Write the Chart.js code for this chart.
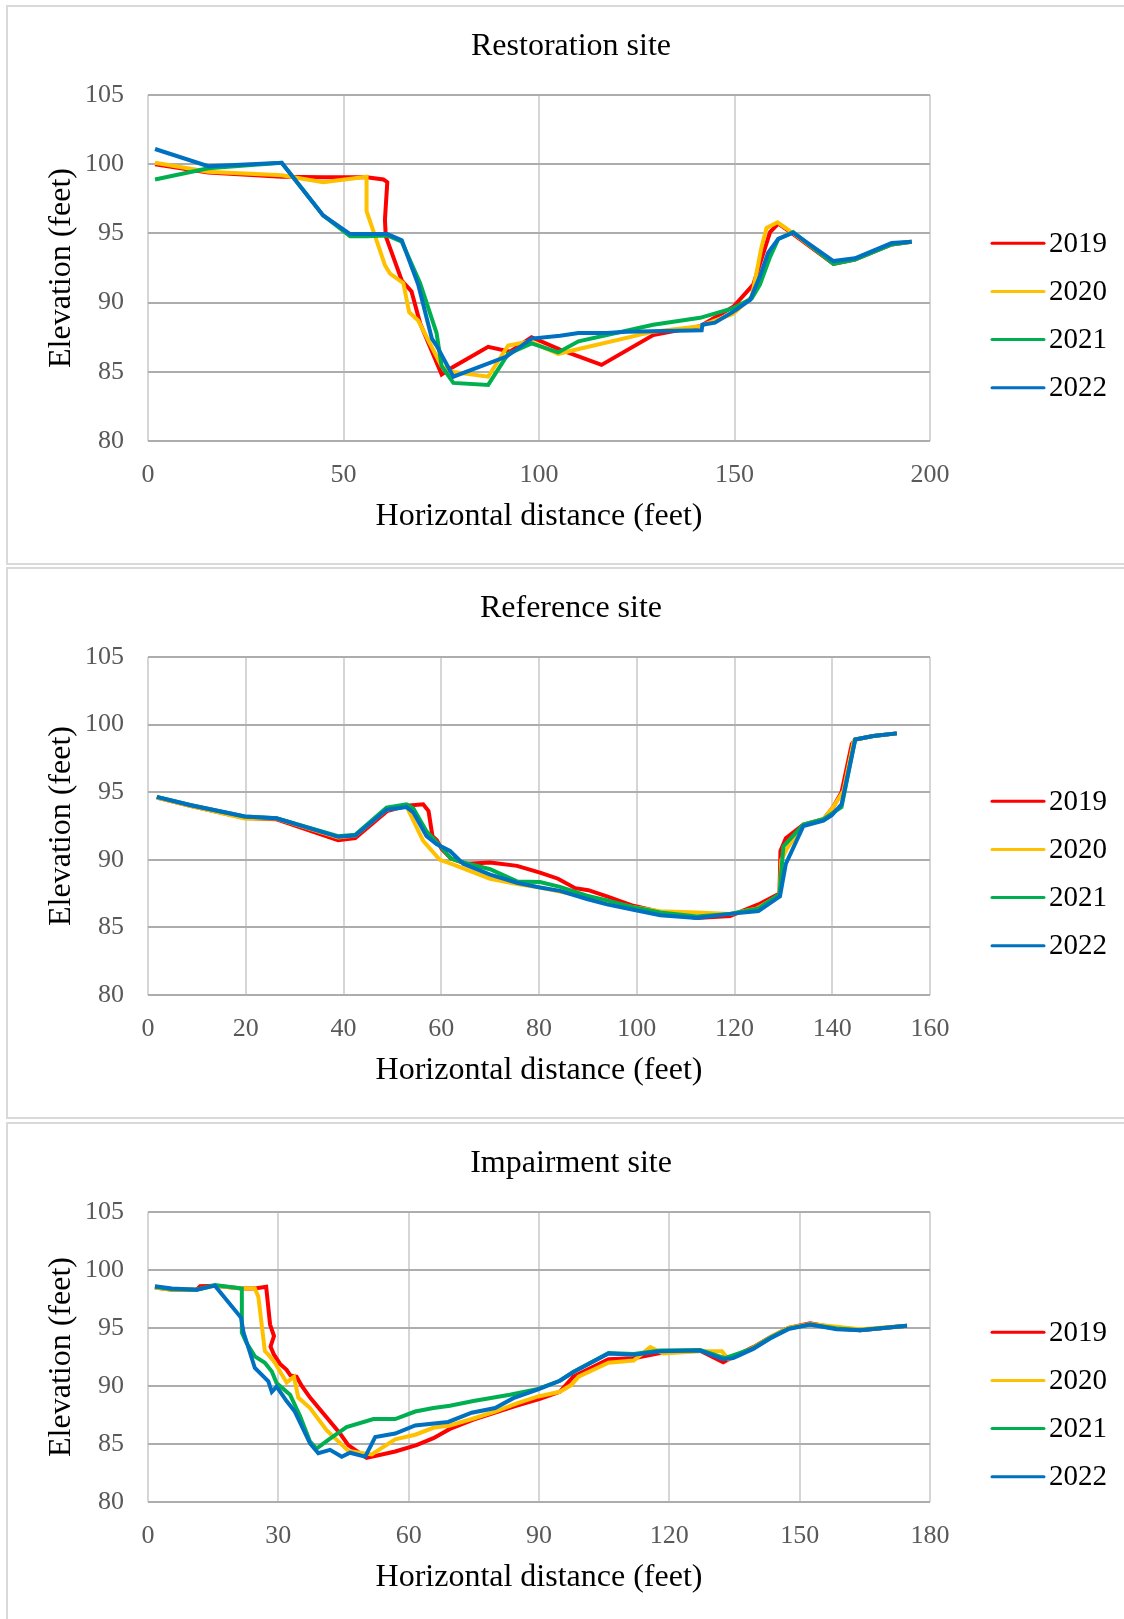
<!DOCTYPE html>
<html>
<head>
<meta charset="utf-8">
<script src="https://cdn.jsdelivr.net/npm/chart.js@4.4.1/dist/chart.umd.min.js"></script>
<style>
  html, body { margin: 0; padding: 0; background: #fff; overflow: hidden; }
  body { width: 1124px; height: 1619px; position: relative; }
  .panel { position: absolute; left: 6px; width: 1126px; border: 2px solid #d9d9d9; background: #fff; }
  .panel canvas { display: block; }
</style>
</head>
<body>
<div class="panel" style="top:5px;height:556px"><canvas id="restChart" width="1126" height="556"></canvas></div>
<div class="panel" style="top:567px;height:548px"><canvas id="refChart" width="1126" height="548"></canvas></div>
<div class="panel" style="top:1122px;height:500px"><canvas id="impChart" width="1126" height="500"></canvas></div>
<script>
const years = ["2019", "2020", "2021", "2022"];
const yearColors = ["#FF0000", "#FFC000", "#00B050", "#0070C0"];
const elevTicks = [80, 85, 90, 95, 100, 105];

// Restoration site
const restXTicks = [0, 50, 100, 150, 200];
const restX2019 = [1.8, 15.4, 34.2, 44.8, 55.9, 60.2, 61.2, 60.6, 60.8, 64.9, 67.4, 69.6, 75.1, 77.7, 87.0, 92.6, 98.1, 105.4, 116.0, 129.2, 141.2, 149.7, 154.8, 159.1, 161.2, 165.0, 175.3, 180.8, 190.2, 195.3];
const restY2019 = [100.0, 99.4, 99.1, 99.05, 99.05, 98.9, 98.7, 96.0, 94.8, 91.6, 90.8, 88.5, 84.8, 85.3, 86.8, 86.45, 87.5, 86.6, 85.5, 87.65, 88.3, 89.7, 91.3, 95.1, 95.7, 94.95, 92.8, 93.1, 94.2, 94.4];
const restX2020 = [1.8, 15.4, 34.2, 44.8, 55.9, 55.9, 60.6, 61.9, 65.3, 66.8, 69.1, 75.1, 77.7, 87.0, 92.1, 97.7, 104.9, 129.2, 141.2, 149.7, 154.4, 156.9, 158.2, 161.0, 164.6, 175.3, 180.8, 190.2, 195.3];
const restY2020 = [100.1, 99.45, 99.2, 98.7, 99.1, 96.6, 92.7, 92.1, 91.4, 89.3, 88.7, 85.4, 85.0, 84.65, 86.9, 87.2, 86.3, 87.9, 88.3, 89.2, 90.4, 94.0, 95.4, 95.8, 95.1, 92.85, 93.15, 94.25, 94.4];
const restX2021 = [1.8, 15.4, 34.2, 44.8, 51.7, 55.9, 61.2, 64.9, 69.6, 73.8, 75.1, 78.1, 87.0, 92.1, 98.1, 104.9, 110.1, 129.2, 141.2, 149.7, 154.4, 156.5, 159.1, 161.2, 165.0, 175.3, 180.8, 190.2, 195.3];
const restY2021 = [98.9, 99.7, 100.1, 96.3, 94.8, 94.8, 94.85, 94.4, 91.4, 87.8, 85.4, 84.2, 84.05, 86.3, 87.05, 86.4, 87.2, 88.4, 88.9, 89.6, 90.3, 91.3, 93.3, 94.6, 95.1, 92.8, 93.1, 94.2, 94.4];
const restX2022 = [1.8, 15.4, 34.2, 44.8, 51.7, 61.2, 64.9, 69.1, 72.6, 73.8, 75.5, 78.1, 91.7, 98.1, 105.4, 110.1, 117.3, 122.4, 141.6, 141.8, 145.0, 149.7, 154.0, 156.5, 158.6, 161.2, 165.0, 175.3, 180.8, 190.2, 195.3];
const restY2022 = [101.1, 99.85, 100.1, 96.3, 94.95, 94.95, 94.5, 91.3, 87.4, 86.9, 86.0, 84.65, 86.1, 87.4, 87.6, 87.8, 87.8, 87.9, 88.0, 88.4, 88.55, 89.35, 90.2, 91.9, 93.6, 94.6, 95.05, 93.0, 93.2, 94.3, 94.4];

// Reference site
const refXTicks = [0, 20, 40, 60, 80, 100, 120, 140, 160];
const refX2019 = [1.8, 8.6, 19.8, 26.3, 38.9, 42.4, 48.9, 52.9, 56.3, 57.4, 58.2, 59.1, 60.1, 62.0, 65.2, 70.0, 75.5, 80.2, 83.9, 87.4, 90.1, 93.9, 99.3, 104.8, 112.3, 119.1, 124.9, 129.2, 129.4, 130.5, 134.1, 138.2, 140.2, 141.9, 144.0, 144.7, 148.4, 153.2];
const refY2019 = [94.6, 94.0, 93.1, 93.0, 91.45, 91.6, 93.6, 94.0, 94.1, 93.6, 91.75, 91.45, 90.8, 90.1, 89.7, 89.8, 89.55, 89.05, 88.6, 87.9, 87.75, 87.3, 86.6, 86.15, 85.7, 85.85, 86.7, 87.5, 90.65, 91.6, 92.6, 93.0, 93.9, 95.0, 98.55, 98.9, 99.15, 99.35];
const refX2020 = [1.8, 8.6, 19.8, 26.3, 38.9, 42.4, 48.8, 52.9, 56.3, 59.7, 62.1, 70.0, 75.5, 80.2, 87.0, 93.9, 99.3, 104.8, 112.3, 119.1, 124.6, 129.2, 129.6, 130.7, 134.1, 138.2, 140.2, 142.3, 144.4, 144.7, 148.4, 153.2];
const refY2020 = [94.6, 94.0, 93.05, 93.05, 91.65, 91.8, 93.7, 93.95, 91.4, 90.0, 89.7, 88.6, 88.2, 87.95, 87.45, 86.9, 86.5, 86.2, 86.1, 86.0, 86.4, 87.4, 90.0, 90.8, 92.6, 93.0, 93.9, 95.1, 98.8, 98.9, 99.15, 99.35];
const refX2021 = [1.8, 8.6, 19.8, 26.3, 38.9, 42.4, 48.8, 52.9, 54.3, 57.0, 59.1, 62.0, 64.5, 70.0, 75.5, 80.2, 84.3, 89.8, 93.9, 99.3, 104.8, 112.3, 119.1, 124.9, 129.2, 130.0, 134.1, 138.2, 141.9, 144.4, 144.7, 148.4, 153.2];
const refY2021 = [94.65, 94.05, 93.2, 93.07, 91.75, 91.85, 93.85, 94.1, 93.8, 92.1, 91.3, 90.1, 89.8, 89.3, 88.4, 88.35, 88.0, 87.35, 87.0, 86.5, 86.1, 85.8, 86.0, 86.4, 87.45, 91.0, 92.6, 93.0, 93.9, 98.4, 98.9, 99.15, 99.35];
const refX2022 = [1.8, 8.6, 19.8, 26.3, 38.9, 42.4, 48.8, 52.9, 54.3, 57.0, 59.1, 61.8, 64.5, 70.0, 75.5, 80.2, 84.3, 89.8, 93.9, 99.3, 104.8, 112.3, 119.1, 124.9, 129.3, 130.5, 134.1, 138.2, 139.9, 141.9, 144.7, 148.4, 153.2];
const refY2022 = [94.65, 94.05, 93.2, 93.07, 91.7, 91.8, 93.7, 93.9, 93.5, 91.75, 91.15, 90.65, 89.7, 88.9, 88.3, 87.95, 87.7, 87.1, 86.7, 86.3, 85.9, 85.7, 86.0, 86.2, 87.3, 89.7, 92.5, 92.9, 93.3, 94.1, 98.9, 99.15, 99.35];

// Impairment site
const impXTicks = [0, 30, 60, 90, 120, 150, 180];
const impX2019 = [1.6, 5.5, 11.2, 12.0, 15.4, 21.6, 24.6, 27.2, 28.1, 29.0, 28.2, 29.0, 30.4, 31.9, 32.8, 34.2, 35.4, 37.3, 44.2, 46.1, 50.3, 56.9, 61.8, 65.7, 69.5, 74.9, 79.9, 84.9, 90.2, 94.8, 97.9, 106.0, 111.8, 117.9, 127.1, 132.4, 134.7, 139.3, 143.2, 147.4, 152.4, 158.5, 163.9, 174.7];
const impY2019 = [98.5, 98.3, 98.3, 98.6, 98.65, 98.4, 98.4, 98.55, 95.3, 94.3, 93.4, 92.7, 91.9, 91.4, 90.9, 90.8, 90.0, 89.0, 85.9, 84.9, 83.8, 84.35, 84.9, 85.5, 86.3, 87.1, 87.7, 88.3, 88.9, 89.5, 90.8, 92.3, 92.4, 92.85, 93.05, 92.05, 92.5, 93.35, 94.2, 95.0, 95.4, 95.0, 94.8, 95.2];
const impX2020 = [1.6, 5.5, 11.2, 15.4, 21.6, 24.6, 25.4, 26.9, 27.7, 29.2, 31.9, 33.6, 34.6, 37.3, 41.1, 46.1, 51.5, 56.9, 61.5, 65.7, 69.5, 74.9, 79.9, 84.9, 89.8, 94.8, 97.5, 99.1, 106.0, 111.8, 115.6, 118.6, 127.1, 132.1, 133.6, 139.3, 143.2, 147.4, 152.4, 158.5, 163.9, 174.7];
const impY2020 = [98.5, 98.3, 98.3, 98.65, 98.4, 98.4, 97.7, 93.0, 92.7, 92.0, 90.3, 90.8, 89.0, 88.1, 86.2, 84.4, 84.1, 85.4, 85.8, 86.4, 86.6, 87.2, 87.8, 88.5, 89.1, 89.5, 90.1, 90.8, 92.0, 92.2, 93.35, 92.8, 93.0, 93.0, 92.3, 93.3, 94.2, 95.0, 95.35, 95.1, 94.9, 95.2];
const impX2021 = [1.6, 5.5, 11.2, 15.4, 21.6, 21.6, 22.7, 24.6, 26.9, 28.5, 29.6, 32.7, 35.0, 37.3, 38.8, 41.5, 45.7, 51.9, 56.9, 61.5, 65.7, 69.5, 74.9, 83.3, 89.8, 94.8, 97.9, 106.0, 111.8, 117.9, 127.1, 132.8, 139.3, 143.2, 147.4, 152.4, 158.5, 163.9, 174.7];
const impY2021 = [98.55, 98.35, 98.3, 98.7, 98.4, 94.6, 93.7, 92.55, 92.0, 91.25, 90.25, 89.25, 87.4, 85.2, 84.6, 85.35, 86.45, 87.15, 87.15, 87.8, 88.1, 88.3, 88.7, 89.25, 89.75, 90.45, 91.2, 92.85, 92.75, 93.05, 93.1, 92.4, 93.25, 94.15, 94.95, 95.3, 94.95, 94.8, 95.2];
const impX2022 = [1.6, 5.5, 11.2, 15.4, 21.4, 22.0, 24.6, 27.7, 28.5, 29.6, 31.9, 33.8, 37.3, 39.2, 41.9, 44.6, 46.5, 50.0, 52.3, 56.9, 61.5, 69.1, 74.5, 79.9, 84.1, 89.8, 94.8, 97.9, 106.0, 111.8, 117.9, 127.1, 132.4, 134.7, 139.3, 143.2, 147.4, 152.4, 158.5, 163.9, 174.7];
const impY2022 = [98.6, 98.4, 98.3, 98.65, 95.9, 94.6, 91.55, 90.4, 89.5, 89.95, 88.7, 87.8, 85.05, 84.2, 84.5, 83.9, 84.25, 83.9, 85.6, 85.9, 86.6, 86.9, 87.7, 88.1, 88.95, 89.7, 90.45, 91.2, 92.8, 92.7, 93.0, 93.05, 92.3, 92.4, 93.2, 94.1, 94.9, 95.3, 94.9, 94.8, 95.2];

const SERIF = '"Liberation Serif", "Times New Roman", serif';

// legend drawn as short line + year, to the right of the plot
const lineLegend = {
  id: "lineLegend",
  afterDraw(chart) {
    const { ctx, chartArea } = chart;
    const mid = (chartArea.top + chartArea.bottom) / 2 + 47.5;
    ctx.save();
    ctx.font = "29px " + SERIF;
    ctx.textBaseline = "middle";
    ctx.textAlign = "left";
    ctx.lineCap = "round";
    ctx.lineWidth = 3;
    chart.data.datasets.forEach((ds, i) => {
      const y = mid + (i - 1.5) * 48.2;
      ctx.strokeStyle = ds.borderColor;
      ctx.beginPath();
      ctx.moveTo(chartArea.right + 62, y);
      ctx.lineTo(chartArea.right + 114, y);
      ctx.stroke();
      ctx.fillStyle = "#000";
      ctx.fillText(ds.label, chartArea.right + 119, y + 1);
    });
    ctx.restore();
  }
};

function pairs(xs, ys) {
  return xs.map((x, i) => ({ x: x, y: ys[i] }));
}

function makeChart(id, title, xMax, xTicks, seriesX, seriesY) {
  const datasets = years.map((yr, i) => ({
    label: yr,
    data: pairs(seriesX[i], seriesY[i]),
    borderColor: yearColors[i],
    backgroundColor: yearColors[i],
    borderWidth: 4,
    pointRadius: 0,
    tension: 0,
    order: 3 - i
  }));

  new Chart(document.getElementById(id), {
    type: "line",
    data: { datasets },
    options: {
      responsive: false,
      animation: false,
      layout: { padding: 0 },
      plugins: {
        legend: { display: false },
        tooltip: { enabled: false },
        title: {
          display: true,
          text: title,
          color: "#000",
          font: { family: SERIF, size: 32, weight: "normal" },
          padding: { top: 20.5, bottom: 29.1 }
        }
      },
      scales: {
        x: {
          type: "linear",
          min: 0,
          max: xMax,
          afterBuildTicks: (s) => { s.ticks = xTicks.map((v) => ({ value: v })); },
          afterFit: (s) => { s.height = 122; s.paddingRight = 204; },
          grid: { color: "#d6d6d6", lineWidth: 2, drawTicks: false },
          border: { display: false },
          ticks: { color: "#595959", padding: 19, font: { family: SERIF, size: 26 } },
          title: {
            display: true,
            text: "Horizontal distance (feet)",
            color: "#000",
            font: { family: SERIF, size: 32 },
            padding: { top: 4, bottom: 26.8 }
          }
        },
        y: {
          min: 80,
          max: 105,
          afterBuildTicks: (s) => { s.ticks = elevTicks.map((v) => ({ value: v })); },
          afterFit: (s) => { s.width = 140; },
          grid: { color: "#adadad", lineWidth: 2, drawTicks: false },
          border: { display: false },
          ticks: { color: "#595959", padding: 24, font: { family: SERIF, size: 26 } },
          title: {
            display: true,
            text: "Elevation (feet)",
            color: "#000",
            font: { family: SERIF, size: 32 },
            padding: { top: 34, bottom: 4 }
          }
        }
      }
    },
    plugins: [lineLegend]
  });
}

makeChart("restChart", "Restoration site", 200, restXTicks,
  [restX2019, restX2020, restX2021, restX2022],
  [restY2019, restY2020, restY2021, restY2022]);

makeChart("refChart", "Reference site", 160, refXTicks,
  [refX2019, refX2020, refX2021, refX2022],
  [refY2019, refY2020, refY2021, refY2022]);

makeChart("impChart", "Impairment site", 180, impXTicks,
  [impX2019, impX2020, impX2021, impX2022],
  [impY2019, impY2020, impY2021, impY2022]);
</script>
</body>
</html>
